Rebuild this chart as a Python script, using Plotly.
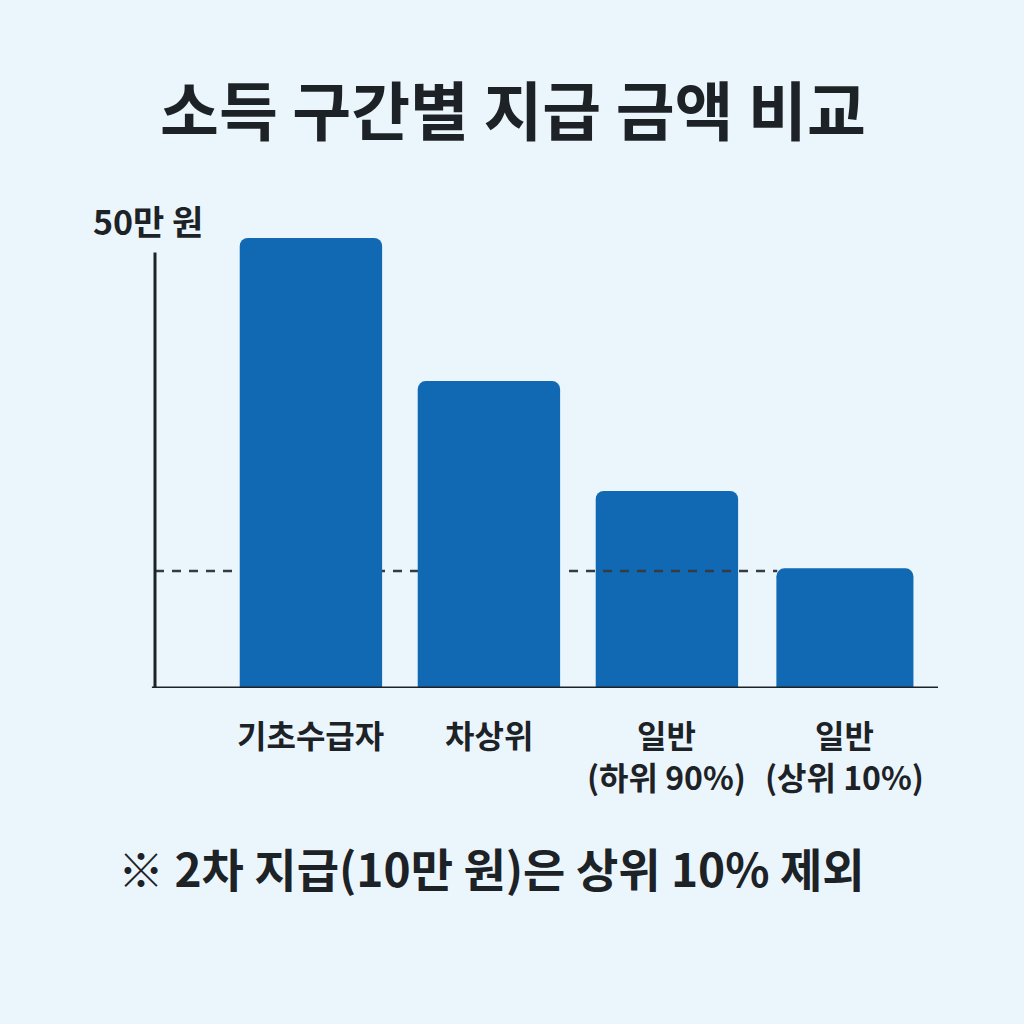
import plotly.graph_objects as go

categories = ["기초수급자", "차상위", "일반<br>(하위 90%)", "일반<br>(상위 10%)"]
amounts = [50, 34.1, 21.9, 13.3]          # 만 원
bar_widths = [0.8, 0.8, 0.8, 0.77]
reference_level = 13.0                    # dashed reference line
title_text = "소득 구간별 지급 금액 비교"
unit_label = "50만 원"
footnote = "※ 2차 지급(10만 원)은 상위 10% 제외"

FONT = "Noto Sans CJK KR"
BG = "#EBF6FC"
BAR = "#1168B3"
INK = "#1d2227"

xpos = list(range(len(categories)))

fig = go.Figure()
fig.add_trace(go.Bar(
    x=xpos, y=amounts, width=bar_widths,
    marker=dict(color=BAR, cornerradius=8, line=dict(width=0)),
    hoverinfo="skip",
))

shapes = [
    dict(type="line", xref="paper", yref="y", x0=0, x1=0, y0=0, y1=48.4,
         line=dict(color=INK, width=3), layer="above"),
    dict(type="line", xref="paper", yref="y", x0=-0.004, x1=1, y0=0, y1=0,
         line=dict(color=INK, width=3), layer="above"),
    dict(type="line", xref="paper", yref="y", x0=0, x1=0.5, y0=reference_level, y1=reference_level,
         line=dict(color="#343b42", width=2.5, dash="9px,8px"), layer="below"),
    dict(type="line", xref="x", yref="y", x0=1.45, x1=2.62, y0=reference_level, y1=reference_level,
         line=dict(color="#343b42", width=2.5, dash="9px,8px"), layer="above"),
]

annotations = [
    dict(text=f"<b>{title_text}</b>", xref="paper", yref="paper", x=0.457, y=1.19,
         showarrow=False, font=dict(family=FONT, size=64, color=INK), xanchor="center", yanchor="middle"),
    dict(text=f"<b>{unit_label}</b>", xref="paper", yref="paper", x=-0.009, y=0.959,
         showarrow=False, font=dict(family=FONT, size=34, color=INK), xanchor="center", yanchor="middle"),
    dict(text=f"<b>{footnote}</b>", xref="paper", yref="paper", x=0.43, y=-0.366,
         showarrow=False, font=dict(family=FONT, size=46, color=INK), xanchor="center", yanchor="middle"),
]
label_x = [0, 1, 2.0, 3.0]
for xp, c in zip(label_x, categories):
    annotations.append(dict(text=f"<b>{c}</b>", xref="x", yref="paper", x=xp, y=0,
                            yshift=-21, showarrow=False, align="center",
                            font=dict(family=FONT, size=32, color=INK),
                            xanchor="center", yanchor="top"))

fig.update_layout(
    width=1024, height=1024,
    margin=dict(l=155, r=86, t=200, b=336),
    paper_bgcolor=BG, plot_bgcolor=BG,
    showlegend=False,
    xaxis=dict(range=[-0.876, 3.523], showgrid=False, zeroline=False, showticklabels=False,
               showline=False, fixedrange=True),
    yaxis=dict(range=[0, 54.22], showgrid=False, zeroline=False, showticklabels=False,
               showline=False, fixedrange=True),
    shapes=shapes,
    annotations=annotations,
    bargap=0.2,
)

fig.write_html("out.html", config={"displayModeBar": False},
               post_script=f"document.body.style.margin='0';document.body.style.background='{BG}';")
